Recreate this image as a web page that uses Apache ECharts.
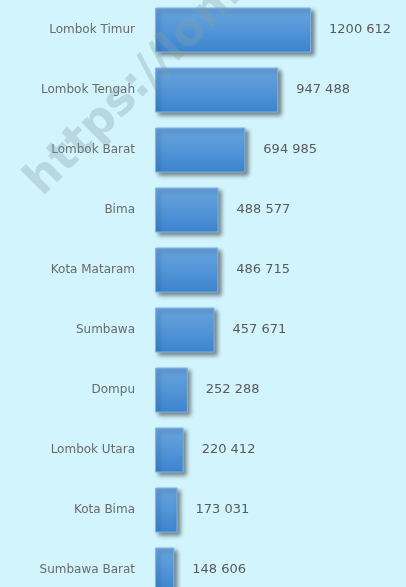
<!DOCTYPE html>
<html>
<head>
<meta charset="utf-8">
<script src="https://cdn.jsdelivr.net/npm/echarts@6/dist/echarts.min.js"></script>
<style>
  html, body { margin: 0; padding: 0; background: #d2f4fd; }
  #chart { width: 406px; height: 587px; }
</style>
</head>
<body>
<div id="chart"></div>
<script>
var regions = ['Lombok Timur', 'Lombok Tengah', 'Lombok Barat', 'Bima', 'Kota Mataram',
               'Sumbawa', 'Dompu', 'Lombok Utara', 'Kota Bima', 'Sumbawa Barat'];
var population = [1200612, 947488, 694985, 488577, 486715, 457671, 252288, 220412, 173031, 148606];
var valueLabels = ['1200 612', '947 488', '694 985', '488 577', '486 715',
                   '457 671', '252 288', '220 412', '173 031', '148 606'];

var myChart = echarts.init(document.getElementById('chart'));

var option = {
    backgroundColor: '#d2f4fd',
    animation: false,
    grid: { left: 155, width: 234, top: 0, height: 600, outerBoundsMode: 'none' },
    xAxis: {
        type: 'value',
        min: 0,
        max: 1800000,
        show: false
    },
    yAxis: {
        type: 'category',
        inverse: true,
        data: regions,
        axisLine: { show: false },
        axisTick: { show: false },
        axisLabel: {
            margin: 20,
            color: '#6a6a6a',
            fontFamily: 'DejaVu Sans',
            fontSize: 12
        }
    },
    series: [
        {
            type: 'bar',
            data: population,
            barCategoryGap: '25%',
            itemStyle: {
                color: new echarts.graphic.LinearGradient(0, 0, 0, 1, [
                    { offset: 0, color: '#6aa6df' },
                    { offset: 1, color: '#3c84cf' }
                ]),
                borderColor: '#7fb4e6',
                borderWidth: 1,
                shadowColor: 'rgba(0,0,0,0.45)',
                shadowBlur: 4,
                shadowOffsetX: 3,
                shadowOffsetY: 3
            },
            label: {
                show: true,
                position: 'right',
                distance: 18,
                color: '#5a5a5a',
                fontFamily: 'DejaVu Sans',
                fontSize: 13,
                formatter: function (p) { return valueLabels[p.dataIndex]; }
            }
        }
    ],
    graphic: [
        {
            type: 'text',
            x: 50,
            y: 205,
            rotation: Math.PI / 4,
            z: 100,
            style: {
                text: 'https://lombok',
                fill: 'rgba(130,160,170,0.33)',
                font: 'bold 46px "DejaVu Sans"',
                textVerticalAlign: 'bottom'
            }
        }
    ]
};
myChart.setOption(option);
</script>
</body>
</html>
